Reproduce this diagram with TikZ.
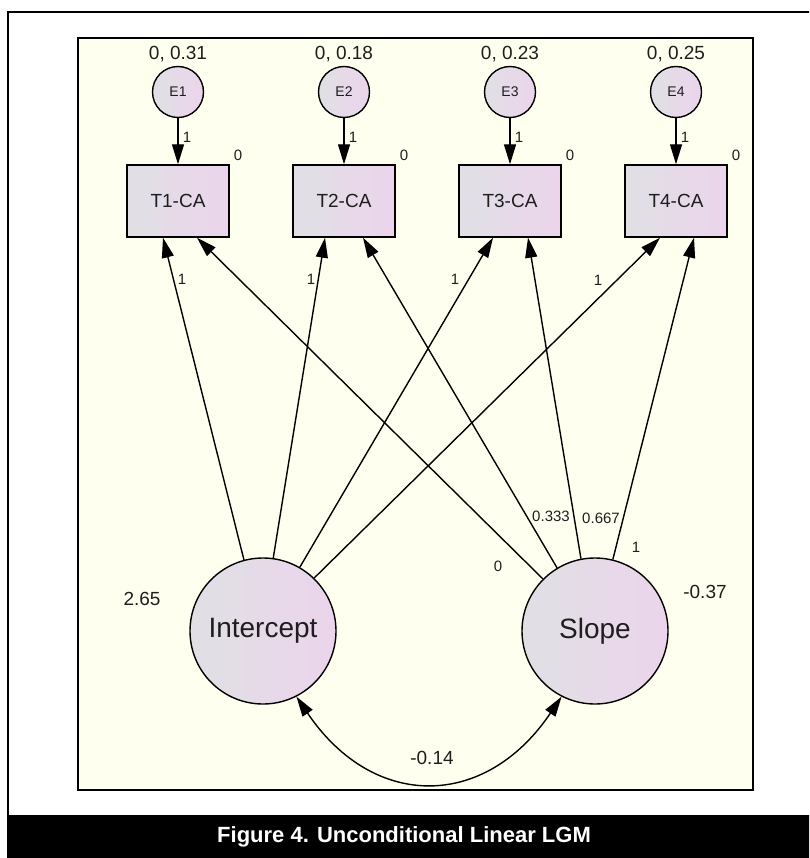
\documentclass[tikz,border=0pt]{standalone}
\usepackage{fontspec}
\setmainfont{Liberation Sans}
\usetikzlibrary{arrows.meta,shapes.geometric}
\definecolor{cream}{RGB}{255,255,240}
\definecolor{gA}{RGB}{224,224,228}
\definecolor{gB}{RGB}{236,212,236}
\definecolor{txt}{RGB}{30,30,30}
\begin{document}
\begin{tikzpicture}[x=1pt,y=-1pt,
  lat/.style={circle,draw=black,line width=1.4pt,left color=gA,right color=gB,inner sep=0pt,text=txt},
  err/.style={lat,minimum size=51pt,font=\fontsize{14}{14}\selectfont},
  fac/.style={lat,minimum size=146pt,font=\fontsize{28}{28}\selectfont},
  obs/.style={rectangle,draw=black,line width=1.4pt,left color=gA,right color=gB,minimum width=102pt,minimum height=72pt,inner sep=0pt,text=txt,font=\fontsize{19}{19}\selectfont},
  lbl/.style={inner sep=0pt,text=txt,font=\fontsize{19}{19}\selectfont},
  sml/.style={inner sep=0pt,text=txt,font=\fontsize{15}{15}\selectfont},
  arr/.style={line width=1.4pt,-{Triangle[length=20pt,width=12pt]}},
  dbl/.style={line width=1.4pt,{Triangle[length=20pt,width=12pt]}-{Triangle[length=20pt,width=12pt]}},
]
\useasboundingbox (0,0) rectangle (809,858);
\clip (0,0) rectangle (809,858);
% frames
\draw[line width=2.5pt] (8,815) -- (8,12) -- (820,12);
\filldraw[fill=cream,line width=2.5pt] (78,38) rectangle (753,790);
\fill[black] (7,815) rectangle (812,860);
\node[text=white,font=\bfseries\fontsize{22}{22}\selectfont] (cap) at (404,837) {Figure 4. Unconditional Linear LGM};
% indicators
\foreach \i/\x/\v in {1/178/0.31, 2/344/0.18, 3/510/0.23, 4/676/0.25}{
  \node[err] (E\i) at (\x,92) {E\i};
  \node[lbl] (v\i) at (\x,54) {0, \v};
  \node[obs] (T\i) at (\x,201) {T\i-CA};
  \draw[arr] (E\i) -- (T\i);
  \node[sml] (one\i) at (\x+9,137) {1};
  \node[sml] (z\i) at (\x+60,155) {0};
}
% factors
\node[fac] (Int) at (263,631) {Intercept};
\node[fac] (Slo) at (595,631) {Slope};
\draw[arr] (Int.105) -- ([xshift=-15pt]T1.south);
\draw[arr] (Int.82) -- ([xshift=-19pt]T2.south);
\draw[arr] (Int.60) -- ([xshift=-17pt]T3.south);
\draw[arr] (Int.46) -- ([xshift=-16pt]T4.south);
\draw[arr] (Slo.135) -- ([xshift=19pt]T1.south);
\draw[arr] (Slo.121) -- ([xshift=19pt]T2.south);
\draw[arr] (Slo.101) -- ([xshift=18pt]T3.south);
\draw[arr] (Slo.76) -- ([xshift=18pt]T4.south);
\draw[dbl] (Int.-63) to[out=-56,in=-124,distance=137pt] (Slo.-117);
% labels
\node[sml] (li1) at (182,279) {1};
\node[sml] (li2) at (311,279) {1};
\node[sml] (li3) at (455,279) {1};
\node[sml] (li4) at (598,280) {1};
\node[sml] (s0) at (498,566) {0};
\node[sml] (s1) at (551,516) {0.333};
\node[sml] (s2) at (601,518) {0.667};
\node[sml] (s3) at (636,547) {1};
\node[lbl] (varI) at (142,599) {2.65};
\node[lbl] (varS) at (705,592) {-0.37};
\node[lbl] (cov) at (432,758) {-0.14};
\end{tikzpicture}
\end{document}
